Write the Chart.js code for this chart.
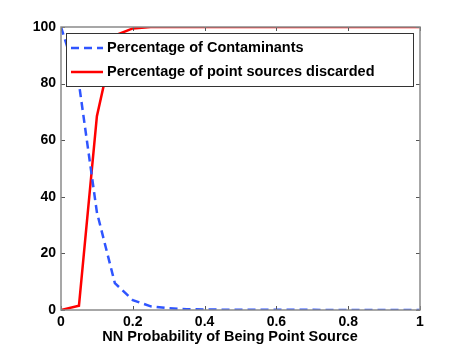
<!DOCTYPE html>
<html>
<head>
<meta charset="utf-8">
<script src="https://cdn.jsdelivr.net/npm/chart.js@4/dist/chart.umd.min.js"></script>
<style>
html,body{margin:0;padding:0;background:#fff;}
#wrap{width:463px;height:349px;position:relative;}
</style>
</head>
<body>
<div id="wrap"><canvas id="c" width="463" height="349"></canvas></div>
<script>
const xValues = [0, 0.05, 0.1, 0.15, 0.2, 0.25, 0.3, 0.35, 0.4, 0.45, 0.5, 0.55, 0.6, 0.65, 0.7, 0.75, 0.8, 0.85, 0.9, 0.95, 1];
const contaminants = [100, 80, 34.5, 9.5, 3.5, 1.3, 0.6, 0.3, 0.2, 0.1, 0.1, 0.1, 0.05, 0.05, 0.05, 0, 0, 0, 0, 0, 0];
const discarded = [0, 1.5, 68.5, 97, 99.5, 100, 100, 100, 100, 100, 100, 100, 100, 100, 100, 100, 100, 100, 100, 100, 100];
const seriesLabels = ["Percentage of Contaminants", "Percentage of point sources discarded"];
const xTitle = "NN Probability of Being Point Source";
const xTicks = [0, 0.2, 0.4, 0.6, 0.8, 1];
const xTickLabels = ["0", "0.2", "0.4", "0.6", "0.8", "1"];
const yTicks = [0, 20, 40, 60, 80, 100];

const FONT = "'Liberation Sans', Arial, Helvetica, sans-serif";

const boxPlugin = {
  id: 'boxPlugin',
  afterDatasetsDraw(chart) {
    const ctx = chart.ctx;
    const a = chart.chartArea;
    const xs = chart.scales.x, ys = chart.scales.y;
    ctx.save();
    ctx.strokeStyle = '#555';
    ctx.lineWidth = 1;
    ctx.beginPath();
    xTicks.forEach(v => {
      const p = Math.round(xs.getPixelForValue(v)) + 0.5;
      ctx.moveTo(p, a.bottom); ctx.lineTo(p, a.bottom - 4);
      ctx.moveTo(p, a.top); ctx.lineTo(p, a.top + 4);
    });
    yTicks.forEach(v => {
      const p = Math.round(ys.getPixelForValue(v)) + 0.5;
      ctx.moveTo(a.left, p); ctx.lineTo(a.left + 4, p);
      ctx.moveTo(a.right, p); ctx.lineTo(a.right - 4, p);
    });
    ctx.stroke();
    ctx.strokeStyle = '#8a8a8a';
    ctx.lineWidth = 1.5;
    ctx.strokeRect(a.left, a.top, a.right - a.left, a.bottom - a.top);
    ctx.restore();
  }
};

const legendPlugin = {
  id: 'boxLegend',
  afterDraw(chart) {
    const ctx = chart.ctx;
    const a = chart.chartArea;
    const bx = a.left + 5, by = a.top + 6, bw = 347, bh = 53;
    ctx.save();
    ctx.fillStyle = '#fff';
    ctx.fillRect(bx, by, bw, bh);
    ctx.strokeStyle = '#333';
    ctx.lineWidth = 1;
    ctx.strokeRect(bx + 0.5, by + 0.5, bw, bh);
    chart.data.datasets.forEach((ds, i) => {
      const cy = by + 15 + i * 24;
      ctx.beginPath();
      ctx.strokeStyle = ds.borderColor;
      ctx.lineWidth = ds.borderWidth;
      ctx.setLineDash(ds.borderDash || []);
      ctx.moveTo(bx + 5, cy); ctx.lineTo(bx + 37, cy);
      ctx.stroke();
      ctx.setLineDash([]);
      ctx.fillStyle = '#000';
      ctx.font = 'bold 14.5px ' + FONT;
      ctx.textBaseline = 'middle';
      ctx.textAlign = 'left';
      ctx.fillText(ds.label, bx + 41, cy);
    });
    // x-axis title
    ctx.fillStyle = '#000';
    ctx.font = 'bold 14.5px ' + FONT;
    ctx.textAlign = 'center';
    ctx.textBaseline = 'middle';
    ctx.fillText(xTitle, 230, 337);
    ctx.restore();
  }
};

new Chart(document.getElementById('c'), {
  type: 'line',
  data: {
    datasets: [
      {
        label: seriesLabels[0],
        data: xValues.map((x, i) => ({x: x, y: contaminants[i]})),
        borderColor: '#2f55ff',
        borderWidth: 2.5,
        borderDash: [8, 5],
        pointRadius: 0,
        tension: 0,
        fill: false
      },
      {
        label: seriesLabels[1],
        data: xValues.map((x, i) => ({x: x, y: discarded[i]})),
        borderColor: '#ff0000',
        borderWidth: 2.5,
        pointRadius: 0,
        tension: 0,
        fill: false
      }
    ]
  },
  options: {
    responsive: false,
    animation: false,
    layout: { padding: { left: 0, right: 43, top: 27, bottom: 0 } },
    plugins: { legend: { display: false }, tooltip: { enabled: false } },
    scales: {
      x: {
        type: 'linear', min: 0, max: 1,
        afterBuildTicks: s => { s.ticks = xTicks.map(v => ({value: v})); },
        afterFit: s => { s.height = 39; },
        grid: { display: false, drawTicks: false },
        border: { display: false },
        ticks: {
          color: '#000', padding: 4,
          font: { family: FONT, size: 14, weight: 'bold' },
          callback: (v) => { const i = xTicks.indexOf(v); return i >= 0 ? xTickLabels[i] : ''; }
        }
      },
      y: {
        min: 0, max: 100,
        afterBuildTicks: s => { s.ticks = yTicks.map(v => ({value: v})); },
        afterFit: s => { s.width = 61; },
        grid: { display: false, drawTicks: false },
        border: { display: false },
        ticks: { color: '#000', padding: 5, font: { family: FONT, size: 14, weight: 'bold' } }
      }
    }
  },
  plugins: [boxPlugin, legendPlugin]
});
</script>
</body>
</html>
